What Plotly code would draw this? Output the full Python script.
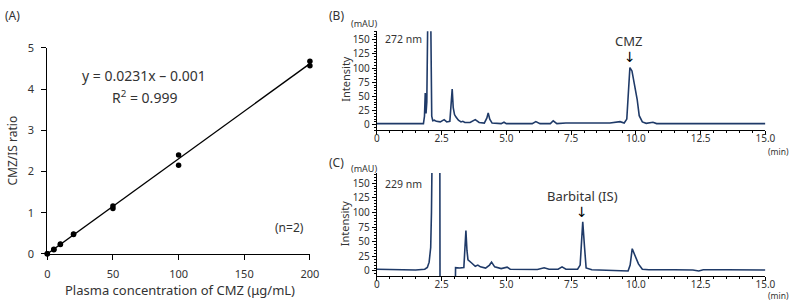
import plotly.graph_objects as go

W, H = 798, 307

# ---------------- Panel A data ----------------
conc = [0, 0, 5, 5, 10, 10, 20, 20, 50, 50, 100, 100, 200, 200]
ratio = [0, 0.005, 0.10, 0.11, 0.23, 0.24, 0.47, 0.48, 1.16, 1.10, 2.40, 2.15, 4.68, 4.57]
slope = 0.0231
intercept = -0.001
fit_x = [0, 200]
a_xticks = [0, 50, 100, 150, 200]
a_yticks = [0, 1, 2, 3, 4, 5]

# ---------------- Panel B data (272 nm) ----------------
t_b = [0, 1.80, 1.84, 1.87, 1.90, 1.93, 1.97, 2.00, 2.04, 2.08, 2.12, 2.16, 2.22, 2.30,
       2.45, 2.60, 2.70, 2.82, 2.88, 2.91, 2.95, 3.00, 3.05, 3.15, 3.25, 3.32, 3.40, 3.6,
       3.8, 3.95, 4.15, 4.25, 4.30, 4.36, 4.45, 4.8, 4.91, 5.0, 5.5, 6.0, 6.14, 6.3, 6.7,
       6.81, 6.95, 7.3, 8.0, 9.0, 9.39, 9.55, 9.65, 9.72, 9.77, 9.85, 9.95, 10.05, 10.13,
       10.25, 10.4, 10.55, 10.66, 10.8, 11.5, 12.5, 13.5, 14.5, 15.0]
i_b = [2, 2, 15, 56, 20, 40, 200, 300, 300, 200, 15, 7, 8, 6,
       5, 9, 5, 6, 40, 63, 30, 18, 14, 8, 5, 6, 4, 4,
       9, 4, 3, 12, 21, 10, 3, 2, 4.5, 2, 2, 2, 5.5, 2, 2,
       7, 2, 3, 3, 3, 5.5, 3, 10, 60, 101, 95, 72, 45, 16,
       5, 2.5, 3, 4.5, 2, 2, 2, 3, 2, 2]

# ---------------- Panel C data (229 nm) ----------------
t_c = [0, 0.8, 1.5, 1.85, 1.95, 2.02, 2.08, 2.11, 2.13, 2.16, 2.40, 2.43, 2.44, 3.03,
       3.04, 3.20, 3.36, 3.40, 3.44, 3.48, 3.52, 3.65, 3.80, 3.90, 4.0, 4.2, 4.35, 4.43,
       4.55, 4.8, 5.03, 5.15, 5.5, 6.2, 6.46, 6.65, 7.0, 7.15, 7.3, 7.75, 7.85, 7.95,
       8.02, 8.08, 8.3, 9.0, 9.7, 9.78, 9.86, 9.95, 10.1, 10.25, 10.5, 11.5, 12.2, 12.43,
       12.6, 13.5, 15.0]
i_c = [3, 2, 1.5, 3, 6, 15, 40, 100, 200, 300, 300, 300, -30, -30,
       5.5, 5, 6, 40, 69, 35, 19, 14, 8, 10, 7, 5, 10, 15,
       7, 4, 6.5, 3, 3, 2.5, 5.5, 3, 3, 7, 3, 3, 10, 84,
       40, 5, 2, 1, 0, 10, 38, 28, 12, 3, 2, 2, 1.5, 0,
       2, 2, 1.5]

chrom_xticks = [0, 2.5, 5.0, 7.5, 10.0, 12.5, 15.0]
chrom_xtext = ["0", "2.5", "5.0", "7.5", "10.0", "12.5", "15.0"]
chrom_yticks = [0, 25, 50, 75, 100, 125, 150]

FONT = "Noto Sans"
TXT = "#333333"
NAVY = "#1f3a68"


def xd(p0, p1):
    return [p0 / W, p1 / W]


def yd(top, bottom):
    return [1 - bottom / H, 1 - top / H]


fig = go.Figure()

# Panel A
fig.add_trace(go.Scatter(x=fit_x, y=[slope * v + intercept for v in fit_x], mode="lines",
                         line=dict(color="black", width=1.3), xaxis="x", yaxis="y",
                         showlegend=False, hoverinfo="skip", cliponaxis=False))
fig.add_trace(go.Scatter(x=conc, y=ratio, mode="markers",
                         marker=dict(color="black", size=5.5), xaxis="x", yaxis="y",
                         showlegend=False, cliponaxis=False))

# Panel B
fig.add_trace(go.Scatter(x=t_b, y=i_b, mode="lines", line=dict(color=NAVY, width=1.6),
                         xaxis="x2", yaxis="y2", showlegend=False))
# Panel C
fig.add_trace(go.Scatter(x=t_c, y=i_c, mode="lines", line=dict(color=NAVY, width=1.6),
                         xaxis="x3", yaxis="y3", showlegend=False))

axis_common = dict(showline=True, linecolor="black", linewidth=1, showgrid=False,
                   zeroline=False, ticks="outside", tickcolor="black", tickwidth=1,
                   tickfont=dict(family=FONT, size=11, color=TXT))

chrom_x = dict(axis_common, range=[0, 15], tickvals=chrom_xticks, ticktext=chrom_xtext,
               ticklen=4, ticklabelstandoff=-5,
               tickfont=dict(family=FONT, size=10, color=TXT),
               minor=dict(ticks="outside", dtick=0.5, ticklen=2, tickcolor="black"))
chrom_y = dict(axis_common, tickvals=chrom_yticks, ticklen=4,
               tickfont=dict(family=FONT, size=10, color=TXT),
               minor=dict(ticks="outside", dtick=5, ticklen=2, tickcolor="black"))

fig.update_layout(
    width=W, height=H, margin=dict(l=0, r=0, t=0, b=0),
    paper_bgcolor="white", plot_bgcolor="white",
    xaxis=dict(axis_common, domain=xd(45, 312), range=[0, 200], tickvals=a_xticks,
               ticklen=5, ticklabelstandoff=5, anchor="y"),
    yaxis=dict(axis_common, domain=yd(42, 258.5), range=[0, 5], tickvals=a_yticks,
               ticklen=5, ticklabelstandoff=5, anchor="x"),
    xaxis2=dict(chrom_x, domain=xd(380, 775), anchor="y2"),
    yaxis2=dict(chrom_y, domain=yd(24.5, 128.7), range=[-10, 165], anchor="x2"),
    xaxis3=dict(chrom_x, domain=xd(380, 775), anchor="y3"),
    yaxis3=dict(chrom_y, domain=yd(173.6, 282), range=[-9, 167], anchor="x3"),
)


def label(text, x, y, size=12, angle=0, color=TXT, family=FONT):
    fig.add_annotation(text=text, x=x / W, y=1 - y / H, xref="paper", yref="paper",
                       showarrow=False, font=dict(family=family, size=size, color=color),
                       textangle=angle, xanchor="center", yanchor="middle")


# Panel labels
label("(A)", 10, 8, 12)
label("(B)", 339, 8, 12)
label("(C)", 339, 162, 12)

# Panel A text
label("CMZ/IS ratio", 10, 150, 12, angle=-90)
label("Plasma concentration of CMZ (μg/mL)", 180, 297, 13)
label("y = 0.0231x – 0.001", 143, 71, 14)
label("R<sup>2</sup> = 0.999", 144, 94, 14)
label("(n=2)", 291, 231, 12)

# Panel B text
label("(mAU)", 367, 16, 9)
label("Intensity", 348, 74, 11, angle=-90)
label("272 nm", 407, 33, 10.5)
label("CMZ", 636, 35, 13)
label("↓", 637, 51, 14, color="black", family="DejaVu Sans")
label("(min)", 788, 150.5, 8.5)

# Panel C text
label("(mAU)", 367, 169, 9)
label("Intensity", 348, 226, 11, angle=-90)
label("229 nm", 407, 185, 10.5)
label("Barbital (IS)", 589, 198, 13)
label("↓", 589, 214, 14, color="black", family="DejaVu Sans")
label("(min)", 788, 302.5, 8.5)

fig.write_html("out.html")
